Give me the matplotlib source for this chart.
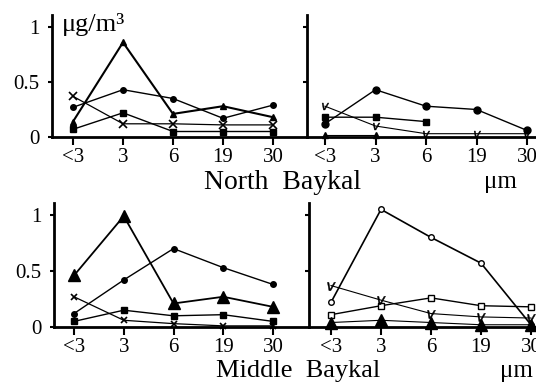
import matplotlib
matplotlib.use('Agg')
import matplotlib.pyplot as plt

plt.rcParams['font.family'] = ['Liberation Serif', 'DejaVu Serif']

W, H = 536, 382

sizes = ['<3', '3', '6', '19', '30']

# North Baykal, left panel
n_left_tri = [0.14, 0.86, 0.21, 0.28, 0.18]
n_left_circ = [0.27, 0.43, 0.35, 0.17, 0.29]
n_left_sq = [0.07, 0.22, 0.05, 0.05, 0.05]
n_left_x = [0.37, 0.12, 0.12, 0.11, 0.11]

# North Baykal, right panel
n_right_circ = [0.12, 0.43, 0.28, 0.25, 0.06]
n_right_sq = [0.18, 0.18, 0.14]
n_right_v = [0.28, 0.10, 0.03, 0.03, 0.03]
n_right_tri = [0.02, 0.02]

# Middle Baykal, left panel
m_left_tri = [0.46, 0.99, 0.21, 0.27, 0.18]
m_left_circ = [0.12, 0.42, 0.70, 0.53, 0.38]
m_left_sq = [0.05, 0.15, 0.10, 0.11, 0.05]
m_left_x = [0.27, 0.06, 0.03, 0.01, 0.01]

# Middle Baykal, right panel
m_right_ocirc = [0.22, 1.05, 0.80, 0.57, 0.02]
m_right_osq = [0.11, 0.19, 0.26, 0.19, 0.18]
m_right_v = [0.37, 0.24, 0.12, 0.09, 0.08]
m_right_tri = [0.04, 0.06, 0.04, 0.02, 0.02]


def make_axes(fig, x0, x1, y_top, y_zero, idx0, step, scale):
    # place axes in pixel coords, y from 0 to top
    ax = fig.add_axes([x0 / W, 1 - y_zero / H, (x1 - x0) / W, (y_zero - y_top) / H])
    ax.set_xlim((x0 - idx0) / step, (x1 - idx0) / step)
    ax.set_ylim(0, (y_zero - y_top) / scale)
    for s in ['top', 'right']:
        ax.spines[s].set_visible(False)
    ax.spines['left'].set_linewidth(2)
    ax.spines['bottom'].set_linewidth(2)
    ax.set_xticks(range(5))
    ax.set_xticklabels(sizes, fontsize=15)
    ax.tick_params(axis='x', direction='out', length=6, width=1.5, pad=2)
    ax.set_yticks([0, 0.5, 1])
    ax.tick_params(axis='y', direction='out', length=3, width=1.5, pad=6, labelsize=15)
    return ax


fig = plt.figure(figsize=(W / 100, H / 100), dpi=100)

ax1 = make_axes(fig, 52, 307, 15, 137, 73, 50, 110)
ax1.set_yticklabels(['0', '0.5', '1'])
ax2 = make_axes(fig, 307, 536, 15, 137, 325, 50.5, 110)
ax2.set_yticks([0.5, 1])
ax2.set_yticklabels([])
ax3 = make_axes(fig, 54, 309, 203, 327, 74, 49.75, 112)
ax3.set_yticklabels(['0', '0.5', '1'])
ax4 = make_axes(fig, 309, 536, 203, 327, 331, 50, 112)
ax4.set_yticks([0.5, 1])
ax4.set_yticklabels([])

kw = dict(color='black', clip_on=False)
vmark = r'$v$'

ax1.plot(range(5), n_left_tri, marker='^', ms=4, lw=1.5, **kw)
ax1.plot(range(5), n_left_circ, marker='o', ms=4, lw=1, **kw)
ax1.plot(range(5), n_left_sq, marker='s', ms=4, lw=1, **kw)
ax1.plot(range(5), n_left_x, marker='x', ms=6, lw=0.9, mew=1.2, **kw)

ax2.plot(range(5), n_right_circ, marker='o', ms=5, lw=1, **kw)
ax2.plot(range(len(n_right_sq)), n_right_sq, marker='s', ms=5, lw=1, **kw)
ax2.plot(range(5), n_right_v, marker=vmark, ms=5, mew=0.3, lw=0.8, **kw)
ax2.plot(range(len(n_right_tri)), n_right_tri, marker='^', ms=4, lw=0.8, **kw)

ax3.plot(range(5), m_left_tri, marker='^', ms=9, lw=1.3, **kw)
ax3.plot(range(5), m_left_circ, marker='o', ms=4, lw=1, **kw)
ax3.plot(range(5), m_left_sq, marker='s', ms=5, lw=1, **kw)
ax3.plot(range(5), m_left_x, marker='x', ms=5, lw=0.9, mew=1.2, **kw)

ax4.plot(range(5), m_right_ocirc, marker='o', ms=4, mfc='white', lw=1.2, **kw)
ax4.plot(range(5), m_right_osq, marker='s', ms=5, mfc='white', lw=1, **kw)
ax4.plot(range(5), m_right_v, marker=vmark, ms=6, mew=0.3, lw=0.8, **kw)
ax4.plot(range(5), m_right_tri, marker='^', ms=8, lw=0.8, **kw)

fig.text(62 / W, 1 - 31 / H, 'μg/m³', fontsize=19, ha='left', va='baseline')
fig.text(283 / W, 1 - 189 / H, 'North  Baykal', fontsize=20, ha='center', va='baseline')
fig.text(500 / W, 1 - 188 / H, 'μm', fontsize=18, ha='center', va='baseline')
fig.text(298 / W, 1 - 377 / H, 'Middle  Baykal', fontsize=19, ha='center', va='baseline')
fig.text(516 / W, 1 - 377 / H, 'μm', fontsize=18, ha='center', va='baseline')

fig.savefig('out.png', dpi=100)
